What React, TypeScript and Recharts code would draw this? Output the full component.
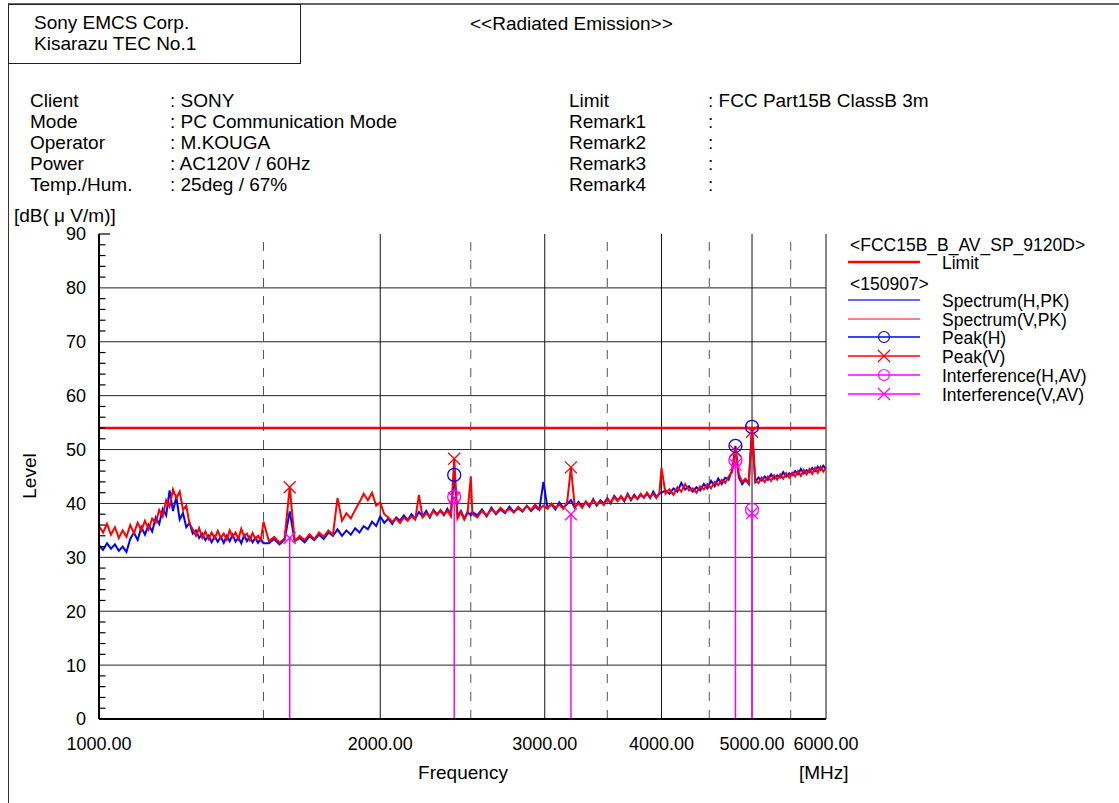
import React from "react"
import { ComposedChart, Line, Scatter, XAxis, YAxis, ReferenceLine } from "recharts"

// frequency grid of the sweep [MHz]
const FREQ = [
  1000, 1010, 1020, 1030, 1040, 1050, 1060, 1070, 1080, 1090,
  1100, 1110, 1120, 1130, 1140, 1150, 1160, 1170, 1180, 1190,
  1200, 1210, 1220, 1230, 1240, 1250, 1260, 1270, 1280, 1290,
  1300, 1310, 1320, 1330, 1340, 1350, 1360, 1370, 1380, 1390,
  1400, 1410, 1420, 1430, 1440, 1450, 1460, 1470, 1480, 1490,
  1500,
  1520, 1540, 1560, 1580, 1600, 1620, 1640, 1660, 1680, 1700,
  1720, 1740, 1760, 1780, 1800, 1820, 1840, 1860, 1880, 1900,
  1920, 1940, 1960, 1980, 2000, 2020, 2040, 2060, 2080, 2100,
  2120, 2140, 2160, 2180, 2200, 2220, 2240, 2260, 2280, 2300,
  2320, 2340, 2360, 2380, 2400, 2420, 2440, 2460, 2480, 2500,
  2510, 2540, 2570, 2600, 2630, 2660, 2690, 2720, 2750, 2780,
  2810, 2840, 2870, 2900, 2930, 2960, 2990, 3020, 3050, 3080,
  3110, 3140, 3170, 3200, 3230, 3260, 3290, 3320, 3350, 3380,
  3410, 3440, 3470, 3500, 3530, 3560, 3590, 3620, 3650, 3680,
  3710, 3740, 3770, 3800, 3830, 3860, 3890, 3920, 3950, 3980,
  4000, 4040, 4080, 4120, 4160, 4200, 4240, 4280, 4320, 4360,
  4400, 4440, 4480, 4520, 4560, 4600, 4640, 4680, 4720, 4760,
  4800, 4840, 4880, 4920, 4960, 5000, 5040, 5080, 5120, 5160,
  5200, 5240, 5280, 5320, 5360, 5400, 5440, 5480, 5520, 5560,
  5600, 5640, 5680, 5720, 5760, 5800, 5840, 5880, 5920, 5960,
  6000,
]

// Spectrum(H,PK) [dB(uV/m)]
const SPEC_H = [
  32.2, 31.4, 32.6, 31.6, 32.4, 31.2, 32.0, 31.0, 33.4, 34.6,
  33.2, 35.6, 34.2, 36.0, 34.8, 37.4, 36.2, 39.0, 37.8, 42.4,
  38.6, 41.2, 37.0, 38.2, 35.6, 36.4, 34.4, 35.0, 33.6, 34.4,
  33.2, 34.0, 32.8, 33.9, 32.9, 33.8, 32.7, 34.0, 33.0, 34.2,
  32.9, 33.7, 32.6, 34.1, 33.0, 33.8, 32.8, 33.6, 32.7, 33.5,
  32.6,
  32.6, 33.4, 32.4, 33.2, 38.5, 33.0, 33.6, 32.8, 33.9, 33.2,
  34.2, 33.4, 34.6, 34.0, 35.2, 34.0, 35.0, 34.2, 35.4, 34.6,
  35.8, 35.2, 36.6, 35.8, 37.6, 36.4, 37.2, 36.2, 37.4, 36.8,
  37.8, 36.9, 38.0, 37.2, 38.4, 37.6, 38.6, 37.4, 38.8, 38.0,
  38.6, 37.8, 39.0, 37.9, 45.3, 37.6, 38.6, 37.2, 38.4, 37.8,
  38.4, 37.8, 38.9, 37.6, 39.2, 38.0, 38.9, 38.2, 39.4, 38.4,
  39.1, 38.5, 39.6, 38.6, 39.4, 38.8, 44.0, 39.2, 39.8, 38.9,
  40.2, 39.2, 39.9, 40.6, 39.2, 40.3, 39.5, 40.2, 39.4, 40.8,
  39.6, 40.6, 40.0, 41.0, 40.0, 41.4, 40.6, 41.2, 40.4, 41.8,
  40.6, 41.6, 40.8, 41.6, 41.2, 41.8, 41.0, 42.2, 41.2, 41.8,
  42.0, 42.4, 41.8, 42.8, 42.2, 43.8, 42.6, 43.2, 42.2, 43.0,
  42.4, 43.6, 42.8, 44.2, 43.2, 44.6, 43.6, 44.8, 44.4, 46.2,
  50.7, 44.8, 43.6, 44.4, 43.6, 54.2, 44.0, 44.8, 44.2, 45.0,
  44.4, 45.4, 44.6, 45.2, 44.8, 45.8, 45.0, 45.6, 45.2, 46.0,
  45.4, 46.4, 45.6, 46.2, 45.8, 46.6, 46.0, 46.8, 46.2, 47.0,
  46.4,
]

// Spectrum(V,PK) [dB(uV/m)]
const SPEC_V = [
  35.8, 34.6, 36.2, 34.2, 35.6, 33.6, 35.0, 33.8, 36.0, 34.5,
  36.4, 35.0, 36.8, 35.2, 37.2, 36.4, 38.8, 37.6, 40.6, 39.4,
  42.6, 41.0, 42.2, 38.8, 39.6, 36.2, 35.2, 34.0, 35.4, 33.6,
  34.8, 33.4, 34.6, 33.5, 34.9, 33.6, 34.4, 33.3, 35.0, 33.8,
  34.6, 33.4, 35.3, 33.9, 34.4, 33.2, 34.5, 33.4, 34.0, 33.1,
  36.6,
  33.0, 33.8, 32.7, 33.5, 43.0, 33.0, 34.0, 33.2, 34.3, 33.4,
  34.6, 33.8, 35.0, 34.2, 41.0, 36.8, 38.2, 37.2, 38.8, 40.2,
  41.8, 40.6, 42.0, 39.6, 40.2, 38.0, 37.4, 36.6, 37.2, 36.4,
  37.4, 36.8, 37.6, 37.0, 41.6, 37.4, 38.2, 37.6, 38.6, 37.8,
  38.8, 38.0, 38.6, 37.6, 48.3, 37.2, 38.4, 37.0, 38.2, 45.0,
  38.0, 37.4, 38.6, 37.8, 38.9, 38.2, 39.2, 38.4, 39.0, 38.3,
  39.4, 38.6, 39.5, 38.8, 39.8, 38.9, 39.6, 39.0, 40.0, 39.2,
  39.8, 39.0, 40.2, 46.7, 39.4, 40.0, 39.2, 40.4, 39.6, 40.6,
  39.8, 40.4, 39.7, 40.9, 40.2, 41.2, 40.4, 41.4, 40.6, 41.6,
  40.8, 41.3, 40.9, 41.8, 41.0, 42.0, 41.2, 41.8, 41.0, 42.0,
  46.6, 41.8, 42.6, 41.6, 43.0, 42.2, 43.6, 42.4, 42.8, 42.0,
  43.2, 42.6, 43.6, 42.8, 44.0, 43.4, 44.4, 43.8, 45.0, 45.8,
  49.8, 45.4, 44.0, 44.6, 43.8, 53.3, 44.2, 43.8, 44.8, 44.0,
  45.0, 44.2, 45.2, 44.4, 45.4, 44.6, 45.6, 44.8, 45.7, 45.0,
  46.0, 45.1, 46.2, 45.4, 46.4, 45.5, 46.6, 45.7, 46.8, 45.9,
  46.6,
]

const LIMIT_F = [1000, 6000]
const LIMIT_DB = 54

const PEAK_H_F = [2400, 4800, 5000]
const PEAK_H_DB = [45.3, 50.7, 54.2]
const PEAK_V_F = [1600, 2400, 3200, 4800, 5000]
const PEAK_V_DB = [43.0, 48.3, 46.7, 49.8, 53.3]
const INTF_H_F = [2400, 4800, 5000]
const INTF_H_DB = [41.2, 48.0, 38.8]
const INTF_V_F = [1600, 2400, 3200, 4800, 5000]
const INTF_V_DB = [33.6, 41.0, 38.0, 47.2, 38.2]

const X_TICKS = [1000, 2000, 3000, 4000, 5000, 6000]
const X_SOLID = [2000, 3000, 4000, 5000, 6000]
const X_DASHED = [1500, 2500, 3500, 4500, 5500]
const Y_GRID = [10, 20, 30, 40, 50, 60, 70, 80]
const Y_TICKS = [
  0, 2, 4, 6, 8, 10, 12, 14, 16, 18, 20, 22, 24, 26, 28, 30, 32, 34, 36, 38, 40,
  42, 44, 46, 48, 50, 52, 54, 56, 58, 60, 62, 64, 66, 68, 70, 72, 74, 76, 78, 80,
  82, 84, 86, 88, 90,
]

const FONT = "'Liberation Sans', Arial, sans-serif"

const specH = FREQ.map((f, i) => ({ f, v: SPEC_H[i] }))
const specV = FREQ.map((f, i) => ({ f, v: SPEC_V[i] }))
const limit = LIMIT_F.map((f) => ({ f, v: LIMIT_DB }))
const peakH = PEAK_H_F.map((f, i) => ({ f, v: PEAK_H_DB[i] }))
const peakV = PEAK_V_F.map((f, i) => ({ f, v: PEAK_V_DB[i] }))
const intfH = INTF_H_F.map((f, i) => ({ f, v: INTF_H_DB[i] }))
const intfV = INTF_V_F.map((f, i) => ({ f, v: INTF_V_DB[i] }))

// magenta stems go from 0 up to the highest AV reading at each frequency
const stems = INTF_V_F.map((f, i) => {
  const h = INTF_H_F.indexOf(f)
  return { f, v: h >= 0 ? Math.max(INTF_V_DB[i], INTF_H_DB[h]) : INTF_V_DB[i] }
})

const circleShape = (color: string) => (p: any) =>
  <circle cx={p.cx} cy={p.cy} r={6.5} fill="none" stroke={color} strokeWidth={1.3} />

const crossShape = (color: string) => (p: any) =>
  <path
    d={`M${p.cx - 6},${p.cy - 6}L${p.cx + 6},${p.cy + 6}M${p.cx - 6},${p.cy + 6}L${p.cx + 6},${p.cy - 6}`}
    stroke={color}
    strokeWidth={1.3}
    fill="none"
  />

const YTick = (props: any) => {
  const { x, y, payload } = props
  const v = payload.value
  const major = v % 10 === 0
  return (
    <g>
      {major && (
        <text x={x} y={y} dy="0.355em" textAnchor="end" fontSize={18} fontFamily={FONT} fill="#000">
          {v}
        </text>
      )}
      {!major && <line x1={x + 13} x2={x + 19.5} y1={y} y2={y} stroke="#000" strokeWidth={1.2} />}
      {v === 90 && <line x1={x + 13} x2={x + 24} y1={y} y2={y} stroke="#000" strokeWidth={1.2} />}
    </g>
  )
}

const legendItems = [
  { label: "Spectrum(H,PK)", color: "#3333ff", mark: "" },
  { label: "Spectrum(V,PK)", color: "#ff5555", mark: "" },
  { label: "Peak(H)", color: "#0000ff", mark: "o" },
  { label: "Peak(V)", color: "#ff0000", mark: "x" },
  { label: "Interference(H,AV)", color: "#ff00ff", mark: "o" },
  { label: "Interference(V,AV)", color: "#ff00ff", mark: "x" },
]

function LegendSample({ color, mark, top, width = 1.5 }: { color: string; mark: string; top: number; width?: number }) {
  return (
    <svg style={{ position: "absolute", left: 848, top: top - 8 }} width={74} height={16}>
      <line x1={0} x2={72} y1={8} y2={8} stroke={color} strokeWidth={width} />
      {mark === "o" && <circle cx={36} cy={8} r={5.5} fill="none" stroke={color} strokeWidth={1.2} />}
      {mark === "x" && <path d="M30,2L42,14M30,14L42,2" stroke={color} strokeWidth={1.2} />}
    </svg>
  )
}

const txt = (s: string, left: number, top: number, size = 19): React.ReactNode => (
  <div
    key={s + left + top}
    style={{ position: "absolute", left, top, fontSize: size, lineHeight: "21px", whiteSpace: "pre", color: "#000" }}
  >
    {s}
  </div>
)

const INFO_L = [
  ["Client", ": SONY"],
  ["Mode", ": PC Communication Mode"],
  ["Operator", ": M.KOUGA"],
  ["Power", ": AC120V / 60Hz"],
  ["Temp./Hum.", ": 25deg / 67%"],
]
const INFO_R = [
  ["Limit", ": FCC Part15B ClassB 3m"],
  ["Remark1", ":"],
  ["Remark2", ":"],
  ["Remark3", ":"],
  ["Remark4", ":"],
]

export default function App() {
  return (
    <div style={{ position: "absolute", left: 0, top: 0, width: 1119, height: 803, background: "#fff", fontFamily: FONT }}>
      <ComposedChart width={1119} height={803} margin={{ top: 234, right: 293, bottom: 24, left: 39 }}>
        <XAxis
          dataKey="f"
          type="number"
          scale="log"
          domain={[1000, 6000]}
          allowDataOverflow
          ticks={X_TICKS}
          interval={0}
          height={60}
          tickSize={0}
          tickMargin={18}
          tickLine={false}
          axisLine={{ stroke: "#000", strokeWidth: 2 }}
          tick={{ fontSize: 18, fill: "#000", fontFamily: FONT }}
          tickFormatter={(v: number) => v.toFixed(2)}
        />
        <YAxis
          dataKey="v"
          type="number"
          domain={[0, 90]}
          allowDataOverflow
          ticks={Y_TICKS}
          interval={0}
          width={60}
          tickSize={0}
          tickMargin={13}
          tickLine={false}
          axisLine={{ stroke: "#000", strokeWidth: 2 }}
          tick={<YTick />}
        />
        {Y_GRID.map((y) => (
          <ReferenceLine key={"gy" + y} y={y} stroke="#222" strokeWidth={1} />
        ))}
        {X_DASHED.map((x) => (
          <ReferenceLine key={"dx" + x} x={x} stroke="#555" strokeWidth={1} strokeDasharray="9 9" />
        ))}
        {X_SOLID.map((x) => (
          <ReferenceLine key={"sx" + x} x={x} stroke="#111" strokeWidth={1} />
        ))}
        <Line data={specH} dataKey="v" type="linear" stroke="#0000ff" strokeWidth={2} dot={false} isAnimationActive={false} />
        <Line data={specV} dataKey="v" type="linear" stroke="#ff0000" strokeWidth={2} dot={false} isAnimationActive={false} />
        {stems.map((s) => (
          <ReferenceLine
            key={"st" + s.f}
            segment={[{ x: s.f, y: 0 }, { x: s.f, y: s.v }]}
            stroke="#ff00ff"
            strokeWidth={1.5}
          />
        ))}
        <Line data={limit} dataKey="v" type="linear" stroke="#ff0000" strokeWidth={2.5} dot={false} isAnimationActive={false} />
        <Scatter data={intfH} dataKey="v" shape={circleShape("#ff00ff")} isAnimationActive={false} />
        <Scatter data={intfV} dataKey="v" shape={crossShape("#ff00ff")} isAnimationActive={false} />
        <Scatter data={peakH} dataKey="v" shape={circleShape("#0000ff")} isAnimationActive={false} />
        <Scatter data={peakV} dataKey="v" shape={crossShape("#ff0000")} isAnimationActive={false} />
      </ComposedChart>

      {/* report frame */}
      <div style={{ position: "absolute", left: 8, top: 3, width: 1111, height: 2, background: "#666" }} />
      <div style={{ position: "absolute", left: 8, top: 4, width: 1, height: 799, background: "#333" }} />
      <div style={{ position: "absolute", left: 8, top: 4, width: 291, height: 58, border: "1px solid #222" }} />

      {txt("Sony EMCS Corp.", 34, 12)}
      {txt("Kisarazu TEC No.1", 34, 33)}
      {txt("<<Radiated Emission>>", 470, 13)}

      {INFO_L.map(([k, v], i) => (
        <React.Fragment key={k}>
          {txt(k, 30, 90 + i * 21)}
          {txt(v, 170, 90 + i * 21)}
        </React.Fragment>
      ))}
      {INFO_R.map(([k, v], i) => (
        <React.Fragment key={k}>
          {txt(k, 569, 90 + i * 21)}
          {txt(v, 708, 90 + i * 21)}
        </React.Fragment>
      ))}

      {txt("[dB( μ V/m)]", 14, 205)}
      <div
        style={{
          position: "absolute",
          left: 30,
          top: 476,
          fontSize: 19,
          transform: "translate(-50%, -50%) rotate(-90deg)",
          whiteSpace: "pre",
        }}
      >
        Level
      </div>
      <div style={{ position: "absolute", left: 463, top: 762, fontSize: 19, transform: "translateX(-50%)", lineHeight: "21px" }}>
        Frequency
      </div>
      {txt("[MHz]", 799, 762)}

      {/* legend */}
      {txt("<FCC15B_B_AV_SP_9120D>", 850, 235, 17.5)}
      <LegendSample color="#ff0000" mark="" top={262} width={2.5} />
      {txt("Limit", 942, 253, 17.5)}
      {txt("<150907>", 850, 274, 17.5)}
      {legendItems.map((it, i) => (
        <React.Fragment key={it.label}>
          <LegendSample color={it.color} mark={it.mark} top={300 + i * 18.7} />
          {txt(it.label, 942, 291 + i * 18.7, 17.5)}
        </React.Fragment>
      ))}
    </div>
  )
}
